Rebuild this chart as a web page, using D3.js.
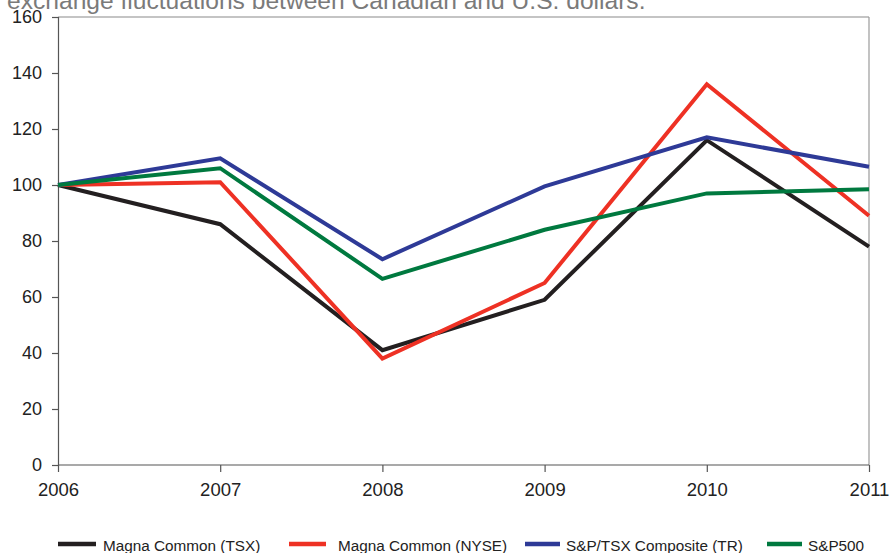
<!DOCTYPE html>
<html>
<head>
<meta charset="utf-8">
<script src="https://cdn.jsdelivr.net/npm/d3@7"></script>
<style>
  html, body { margin: 0; padding: 0; background: #fff; }
  svg { display: block; font-family: "Liberation Sans", Arial, Helvetica, sans-serif; }
</style>
</head>
<body>
<svg id="chart" width="890" height="553"></svg>
<script>
// Five-year cumulative return, indexed to 100 in 2006
const years = [2006, 2007, 2008, 2009, 2010, 2011];
const magnaTSX = [100, 86, 41, 59, 116, 78];
const magnaNYSE = [100, 101, 38, 65, 136, 89];
const spTsx = [100, 109.5, 73.5, 99.5, 117, 106.5];
const sp500 = [100, 106, 66.5, 84, 97, 98.5];
const seriesNames = ["Magna Common (TSX)", "Magna Common (NYSE)", "S&P/TSX Composite (TR)", "S&P500"];
const seriesColors = ["#231f20", "#ee3124", "#2e3a97", "#00793f"];
const yTicks = [0, 20, 40, 60, 80, 100, 120, 140, 160];
const captionText = "exchange fluctuations between Canadian and U.S. dollars.";

const seriesList = [magnaTSX, magnaNYSE, spTsx, sp500];

const svg = d3.select("#chart");
const margin = { left: 58, right: 21, top: 17, bottom: 88 };
const W = 890, H = 553;

const x = d3.scaleLinear().domain([2006, 2011]).range([margin.left, W - margin.right]);
const y = d3.scaleLinear().domain([0, 160]).range([H - margin.bottom, margin.top]);

// caption text running off the top edge
svg.append("text")
  .attr("x", 7).attr("y", 9)
  .attr("fill", "#7a7a7a")
  .attr("font-size", 24.6)
  .text(captionText);

// frame: top and right edges
svg.append("line")
  .attr("x1", x(2006)).attr("x2", x(2011))
  .attr("y1", y(160)).attr("y2", y(160))
  .attr("stroke", "#8a8a8a").attr("stroke-width", 1.2);
svg.append("line")
  .attr("x1", x(2011)).attr("x2", x(2011))
  .attr("y1", y(160)).attr("y2", y(0))
  .attr("stroke", "#9a9a9a").attr("stroke-width", 1.2);

const tickFont = 18;

// y axis
const yAxis = svg.append("g")
  .attr("transform", `translate(${x(2006)},0)`)
  .call(d3.axisLeft(y).tickValues(yTicks).tickSize(6).tickPadding(10).tickFormat(d3.format("d")));
yAxis.select(".domain").attr("stroke", "#555").attr("stroke-width", 1.2);
yAxis.selectAll(".tick line").attr("stroke", "#555").attr("stroke-width", 1.2);
yAxis.selectAll(".tick text").attr("font-size", tickFont).attr("fill", "#222")
  .attr("font-family", "'Liberation Sans', Arial, sans-serif");

// x axis
const xAxis = svg.append("g")
  .attr("transform", `translate(0,${y(0)})`)
  .call(d3.axisBottom(x).tickValues(years).tickSize(7).tickPadding(11).tickFormat(d3.format("d")));
xAxis.select(".domain").attr("stroke", "#555").attr("stroke-width", 1.2)
  .attr("d", `M${x(2006)},0H${x(2011)}`);
xAxis.selectAll(".tick line").attr("stroke", "#555").attr("stroke-width", 1.2);
xAxis.selectAll(".tick text").attr("font-size", 18.5).attr("fill", "#222")
  .attr("font-family", "'Liberation Sans', Arial, sans-serif");

// series lines
const line = d3.line().x((d, i) => x(years[i])).y(d => y(d));
seriesList.forEach((vals, i) => {
  svg.append("path")
    .datum(vals)
    .attr("d", line)
    .attr("fill", "none")
    .attr("stroke", seriesColors[i])
    .attr("stroke-width", 4)
    .attr("stroke-linejoin", "miter");
});

// legend
const legendY = 544;
const legendLineX = [58, 289, 525, 767];
const legendLineLen = [38, 37, 35, 35];
const legendTextX = [103, 338, 566, 808];
seriesNames.forEach((name, i) => {
  svg.append("line")
    .attr("x1", legendLineX[i]).attr("x2", legendLineX[i] + legendLineLen[i])
    .attr("y1", legendY).attr("y2", legendY)
    .attr("stroke", seriesColors[i]).attr("stroke-width", 4.5);
  svg.append("text").attr("x", legendTextX[i]).attr("y", legendY + 7)
    .attr("font-size", 15.3).attr("fill", "#222").text(name);
});
</script>
</body>
</html>
